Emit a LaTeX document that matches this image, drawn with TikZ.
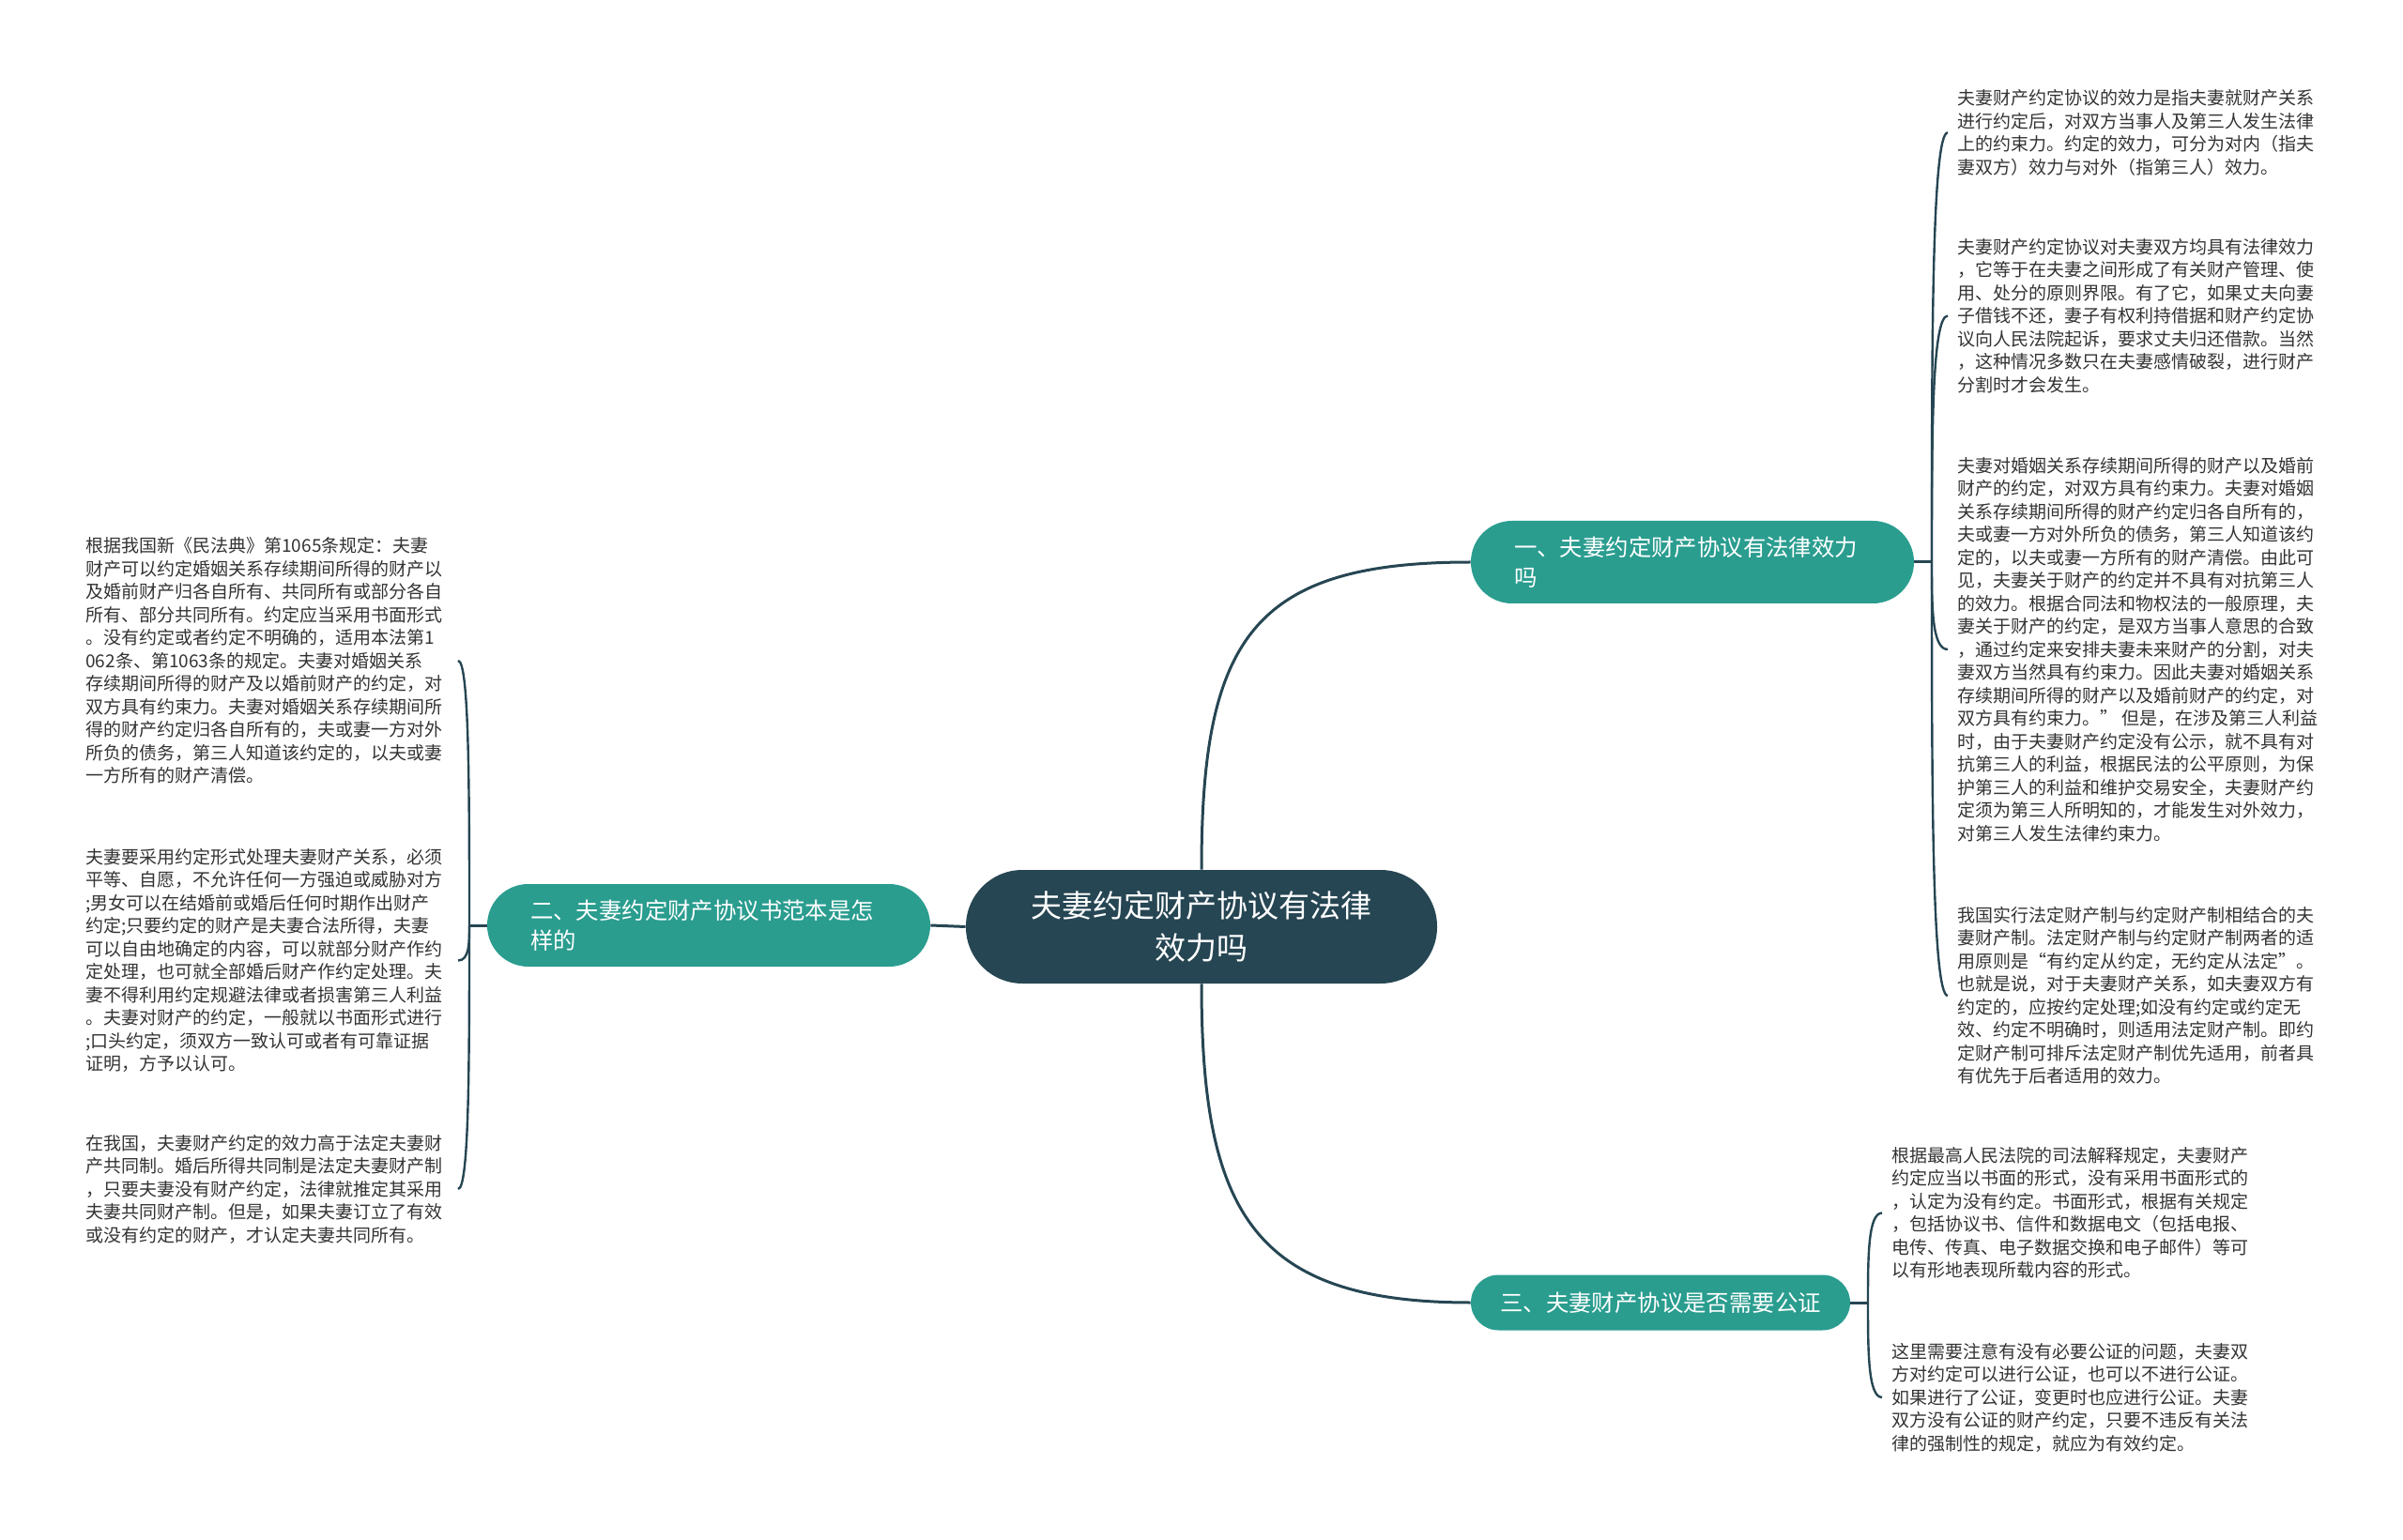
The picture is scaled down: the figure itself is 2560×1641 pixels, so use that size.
\documentclass[tikz,border=0pt]{standalone}
\usepackage{fontspec}
\setmainfont{Noto Sans CJK SC}
\usetikzlibrary{calc}
\definecolor{mmdark}{HTML}{264653}
\definecolor{mmteal}{HTML}{2A9D8F}
\definecolor{mmtext}{HTML}{333333}
\begin{document}
\begin{tikzpicture}[x=0.5pt,y=-0.5pt,
  rootbox/.style={rectangle, rounded corners=30.1pt, fill=mmdark, text=white,
    minimum width=251pt, minimum height=60.5pt, inner sep=0pt, align=center,
    font=\fontsize{16.5pt}{22.5pt}\selectfont},
  branchbox/.style={rectangle, rounded corners=21.9pt, fill=mmteal, text=white,
    minimum width=236pt, minimum height=44pt, inner xsep=23pt, inner ysep=0pt,
    text width=190pt, align=left, font=\fontsize{12.2pt}{16pt}\selectfont},
  branchsingle/.style={rectangle, rounded corners=14.7pt, fill=mmteal, text=white,
    minimum width=202pt, minimum height=29.5pt, inner sep=0pt, align=center,
    font=\fontsize{12.2pt}{16pt}\selectfont},
  leaf/.style={anchor=west, inner sep=0pt, align=left, text=mmtext,
    font=\fontsize{9.5pt}{12.25pt}\selectfont},
  conn/.style={draw=mmdark, line width=1.5pt},
  brace/.style={draw=mmdark, line width=1.2pt}
]
\useasboundingbox (0,0) rectangle (2560,1641);

% central and branch nodes
\node[rootbox] (root) at (1280,987.5) {夫妻约定财产协议有法律\\效力吗};
\node[branchbox] (b1) at (1803,599) {一、夫妻约定财产协议有法律效力\\吗};
\node[branchbox] (b2) at (755,986) {二、夫妻约定财产协议书范本是怎\\样的};
\node[branchsingle] (b3) at (1769,1388) {三、夫妻财产协议是否需要公证};

% leaves of branch 1
\node[leaf] (r1) at (2085,141.3) {夫妻财产约定协议的效力是指夫妻就财产关系\\进行约定后，对双方当事人及第三人发生法律\\上的约束力。约定的效力，可分为对内（指夫\\妻双方）效力与对外（指第三人）效力。};
\node[leaf] (r2) at (2085,336.5) {夫妻财产约定协议对夫妻双方均具有法律效力\\，它等于在夫妻之间形成了有关财产管理、使\\用、处分的原则界限。有了它，如果丈夫向妻\\子借钱不还，妻子有权利持借据和财产约定协\\议向人民法院起诉，要求丈夫归还借款。当然\\，这种情况多数只在夫妻感情破裂，进行财产\\分割时才会发生。};
\node[leaf] (r3) at (2085,692) {夫妻对婚姻关系存续期间所得的财产以及婚前\\财产的约定，对双方具有约束力。夫妻对婚姻\\关系存续期间所得的财产约定归各自所有的，\\夫或妻一方对外所负的债务，第三人知道该约\\定的，以夫或妻一方所有的财产清偿。由此可\\见，夫妻关于财产的约定并不具有对抗第三人\\的效力。根据合同法和物权法的一般原理，夫\\妻关于财产的约定，是双方当事人意思的合致\\，通过约定来安排夫妻未来财产的分割，对夫\\妻双方当然具有约束力。因此夫妻对婚姻关系\\存续期间所得的财产以及婚前财产的约定，对\\双方具有约束力。” 但是，在涉及第三人利益\\时，由于夫妻财产约定没有公示，就不具有对\\抗第三人的利益，根据民法的公平原则，为保\\护第三人的利益和维护交易安全，夫妻财产约\\定须为第三人所明知的，才能发生对外效力，\\对第三人发生法律约束力。};
\node[leaf] (r4) at (2085,1061) {我国实行法定财产制与约定财产制相结合的夫\\妻财产制。法定财产制与约定财产制两者的适\\用原则是“有约定从约定，无约定从法定”。\\也就是说，对于夫妻财产关系，如夫妻双方有\\约定的，应按约定处理;如没有约定或约定无\\效、约定不明确时，则适用法定财产制。即约\\定财产制可排斥法定财产制优先适用，前者具\\有优先于后者适用的效力。};

% leaves of branch 3
\node[leaf] (r5) at (2015,1292.5) {根据最高人民法院的司法解释规定，夫妻财产\\约定应当以书面的形式，没有采用书面形式的\\，认定为没有约定。书面形式，根据有关规定\\，包括协议书、信件和数据电文（包括电报、\\电传、传真、电子数据交换和电子邮件）等可\\以有形地表现所载内容的形式。};
\node[leaf] (r6) at (2015,1489) {这里需要注意有没有必要公证的问题，夫妻双\\方对约定可以进行公证，也可以不进行公证。\\如果进行了公证，变更时也应进行公证。夫妻\\双方没有公证的财产约定，只要不违反有关法\\律的强制性的规定，就应为有效约定。};

% leaves of branch 2
\node[leaf] (l1) at (91,704) {根据我国新《民法典》第1065条规定：夫妻\\财产可以约定婚姻关系存续期间所得的财产以\\及婚前财产归各自所有、共同所有或部分各自\\所有、部分共同所有。约定应当采用书面形式\\。没有约定或者约定不明确的，适用本法第1\\062条、第1063条的规定。夫妻对婚姻关系\\存续期间所得的财产及以婚前财产的约定，对\\双方具有约束力。夫妻对婚姻关系存续期间所\\得的财产约定归各自所有的，夫或妻一方对外\\所负的债务，第三人知道该约定的，以夫或妻\\一方所有的财产清偿。};
\node[leaf] (l2) at (91,1023.5) {夫妻要采用约定形式处理夫妻财产关系，必须\\平等、自愿，不允许任何一方强迫或威胁对方\\;男女可以在结婚前或婚后任何时期作出财产\\约定;只要约定的财产是夫妻合法所得，夫妻\\可以自由地确定的内容，可以就部分财产作约\\定处理，也可就全部婚后财产作约定处理。夫\\妻不得利用约定规避法律或者损害第三人利益\\。夫妻对财产的约定，一般就以书面形式进行\\;口头约定，须双方一致认可或者有可靠证据\\证明，方予以认可。};
\node[leaf] (l3) at (91,1267) {在我国，夫妻财产约定的效力高于法定夫妻财\\产共同制。婚后所得共同制是法定夫妻财产制\\，只要夫妻没有财产约定，法律就推定其采用\\夫妻共同财产制。但是，如果夫妻订立了有效\\或没有约定的财产，才认定夫妻共同所有。};

% main connectors
\draw[conn] (root.north) .. controls (1280,680) and (1335,599) .. (b1.west);
\draw[conn] (root.south) .. controls (1280,1292) and (1335,1388) .. (b3.west);
\draw[conn] (root.west) -- (b2.east);

% junctions
\coordinate (j1) at (2058,599);
\coordinate (j2) at (500,986);
\coordinate (j3) at (1990,1388);
\draw[conn] (b1.east) -- (j1);
\draw[conn] (b2.west) -- (j2);
\draw[conn] (b3.east) -- (j3);

% brace curves, branch 1
\foreach \lf in {r1,r2,r3,r4}{
  \draw[brace] (j1) .. controls ($(j1)!0.5!(j1 |- \lf.west)$) and (j1 |- \lf.west) .. ($(j1 |- \lf.west)+(17,0)$);
}
% brace curves, branch 3
\foreach \lf in {r5,r6}{
  \draw[brace] (j3) .. controls ($(j3)!0.5!(j3 |- \lf.west)$) and (j3 |- \lf.west) .. ($(j3 |- \lf.west)+(15,0)$);
}
% brace curves, branch 2
\foreach \lf in {l1,l2,l3}{
  \draw[brace] (j2) .. controls ($(j2)!0.5!(j2 |- \lf.west)$) and (j2 |- \lf.west) .. ($(j2 |- \lf.west)+(-12,0)$);
}
\end{tikzpicture}
\end{document}
